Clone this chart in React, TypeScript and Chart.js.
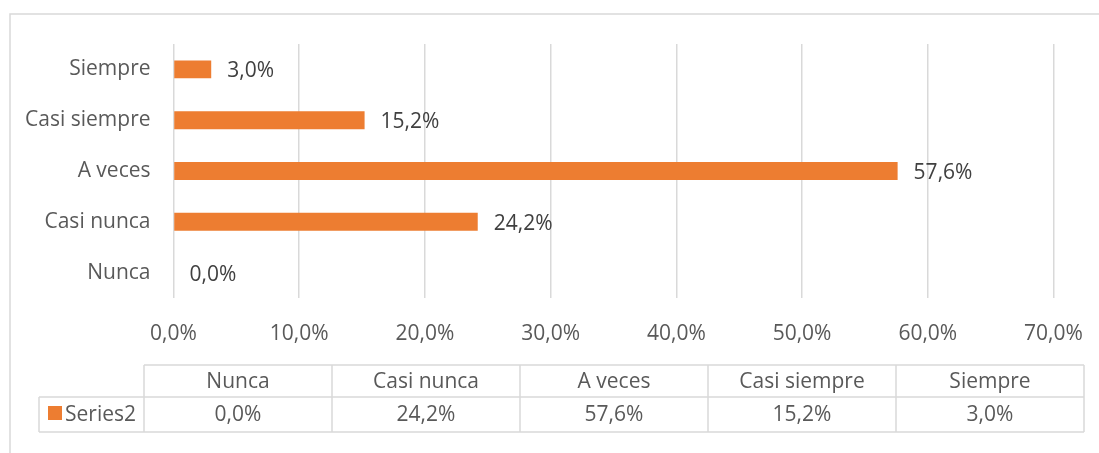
import { useEffect, useRef } from 'react';
import { Chart, registerables } from 'chart.js';

Chart.register(...registerables);

const categories = ['Nunca', 'Casi nunca', 'A veces', 'Casi siempre', 'Siempre'];
const seriesName = 'Series2';
const seriesValues = [0.0, 24.2, 57.6, 15.2, 3.0];
const axisMin = 0;
const axisMax = 70;
const axisStep = 10;

const FONT = '"Open Sans", sans-serif';
const FONT_SIZE = 21;
const TEXT = '#595959';
const LABEL = '#404040';
const GRID = '#d9d9d9';
const BAR = '#ED7D31';

const fmt = (v: number) => v.toFixed(1).replace('.', ',') + '%';

const dataLabelPlugin = {
  id: 'dataLabels',
  afterDatasetsDraw(chart: any) {
    const ctx = chart.ctx;
    const meta = chart.getDatasetMeta(0);
    ctx.save();
    ctx.font = `${FONT_SIZE}px ${FONT}`;
    ctx.fillStyle = LABEL;
    ctx.textAlign = 'left';
    ctx.textBaseline = 'middle';
    meta.data.forEach((bar: any, i: number) => {
      ctx.fillText(fmt(seriesValues[i]), bar.x + 16, bar.y + 2);
    });
    ctx.restore();
  },
};

const tablePlugin = {
  id: 'dataTable',
  afterDraw(chart: any) {
    const ctx = chart.ctx;
    const W = chart.width;
    const H = chart.height;
    ctx.save();
    // outer chart border (top and left visible)
    ctx.strokeStyle = GRID;
    ctx.lineWidth = 1.5;
    ctx.beginPath();
    ctx.moveTo(10, H);
    ctx.lineTo(10, 14);
    ctx.lineTo(W, 14);
    ctx.stroke();

    // data table
    const tLeft = 144;
    const tRight = 1084;
    const legendLeft = 39;
    const yTop = 365;
    const yMid = 397;
    const yBot = 432;
    const n = categories.length;
    const colW = (tRight - tLeft) / n;

    ctx.lineWidth = 1.5;
    ctx.strokeStyle = GRID;
    ctx.beginPath();
    ctx.moveTo(tLeft, yTop);
    ctx.lineTo(tRight, yTop);
    ctx.moveTo(legendLeft, yMid);
    ctx.lineTo(tRight, yMid);
    ctx.moveTo(legendLeft, yBot);
    ctx.lineTo(tRight, yBot);
    ctx.moveTo(legendLeft, yMid);
    ctx.lineTo(legendLeft, yBot);
    for (let i = 0; i <= n; i++) {
      const x = tLeft + i * colW;
      ctx.moveTo(x, yTop);
      ctx.lineTo(x, yBot);
    }
    ctx.stroke();

    ctx.font = `${FONT_SIZE}px ${FONT}`;
    ctx.fillStyle = TEXT;
    ctx.textBaseline = 'middle';
    ctx.textAlign = 'center';
    categories.forEach((c, i) => {
      const cx = tLeft + (i + 0.5) * colW;
      ctx.fillText(c, cx, (yTop + yMid) / 2 + 1);
      ctx.fillText(fmt(seriesValues[i]), cx, (yMid + yBot) / 2 + 1);
    });

    // legend key
    ctx.fillStyle = BAR;
    ctx.fillRect(48, 406, 14, 14);
    ctx.fillStyle = TEXT;
    ctx.textAlign = 'left';
    ctx.fillText(seriesName, 65, (yMid + yBot) / 2 + 1);
    ctx.restore();
  },
};

export default function App() {
  const canvasRef = useRef<HTMLCanvasElement | null>(null);

  useEffect(() => {
    if (!canvasRef.current) return;
    const chart = new Chart(canvasRef.current, {
      type: 'bar',
      data: {
        labels: categories,
        datasets: [
          {
            label: seriesName,
            data: seriesValues,
            backgroundColor: BAR,
            borderWidth: 0,
            categoryPercentage: 1,
            barPercentage: 0.353,
          },
        ],
      },
      options: {
        indexAxis: 'y',
        responsive: false,
        animation: false,
        devicePixelRatio: 1,
        layout: { padding: { left: 0, top: 44, right: 45.5, bottom: 105 } },
        plugins: {
          legend: { display: false },
          tooltip: { enabled: false },
          title: { display: false },
        },
        scales: {
          x: {
            min: axisMin,
            max: axisMax,
            ticks: {
              stepSize: axisStep,
              color: TEXT,
              font: { family: FONT, size: FONT_SIZE },
              padding: 23,
              maxRotation: 0,
              callback: (v: any) => fmt(Number(v)),
            },
            grid: { color: GRID, lineWidth: 1.5, drawTicks: false },
            border: { display: false },
            afterFit: (s: any) => {
              s.height = 50;
              s.paddingLeft = 0;
              s.paddingRight = 0;
            },
          },
          y: {
            reverse: true,
            ticks: {
              color: TEXT,
              font: { family: FONT, size: FONT_SIZE },
              padding: 23,
            },
            grid: { display: false, drawTicks: false },
            border: { display: false },
            afterFit: (s: any) => {
              s.width = 173.5;
              s.paddingTop = 0;
              s.paddingBottom = 0;
            },
          },
        },
      },
      plugins: [dataLabelPlugin, tablePlugin],
    });
    return () => chart.destroy();
  }, []);

  return (
    <div style={{ position: 'fixed', left: 0, top: 0, width: 1099, height: 453, background: '#fff' }}>
      <canvas ref={canvasRef} width={1099} height={453} style={{ display: 'block' }} />
    </div>
  );
}
